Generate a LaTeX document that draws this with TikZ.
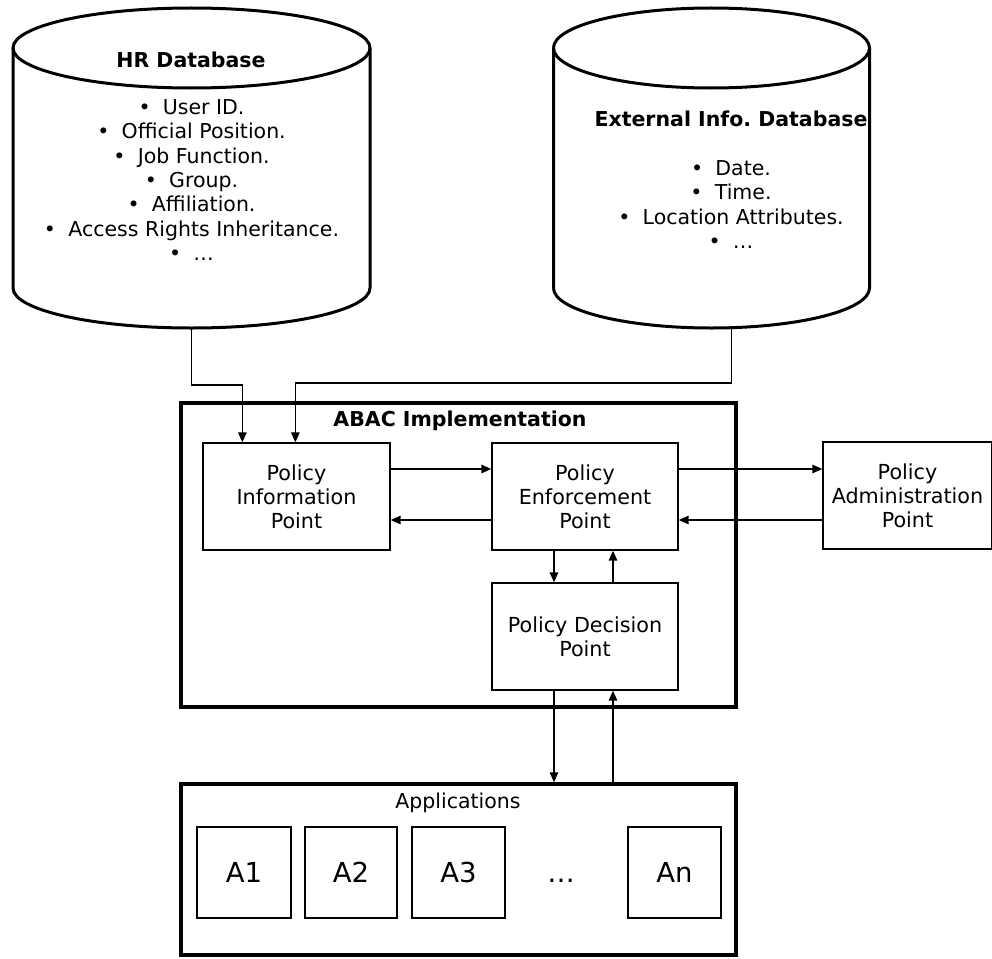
\documentclass[tikz,border=0pt]{standalone}
\usepackage{fontspec}
\setmainfont{DejaVu Sans}
\usetikzlibrary{arrows.meta}
\frenchspacing
\begin{document}
\begin{tikzpicture}[x=1pt,y=1pt,
  cyl/.style={line width=3pt},
  frame/.style={draw,line width=3.5pt,inner sep=0pt},
  box/.style={draw,line width=1.3pt,inner sep=0pt,align=center,
    font=\fontsize{20.7}{24.2}\selectfont},
  txt/.style={align=center,inner sep=0pt,font=\fontsize{20.5}{24.4}\selectfont},
  ttl/.style={inner sep=0pt,font=\fontsize{20.5}{24}\selectfont\bfseries},
  appbox/.style={draw,line width=1.3pt,inner sep=0pt,font=\fontsize{27.5}{30}\selectfont},
  lnk/.style={line width=1.3pt},
  arr/.style={line width=1.4pt,-{Triangle[length=10pt,width=8.5pt]}}
]
\useasboundingbox (0,0) rectangle (992,-958);

% HR database cylinder
\draw[cyl] (13,-48) -- (13,-288)
  arc[start angle=180,end angle=360,x radius=178.5,y radius=40] -- (370,-48);
\draw[cyl] (191.5,-48) ellipse[x radius=178.5,y radius=40];
\coordinate (hrb) at (191.5,-328);
\node[ttl] (hrtitle) at (191,-60) {HR Database};
\node[txt] (hritems) at (191.5,-180) {%
  •\hspace{0.6em}User ID.\\
  •\hspace{0.6em}Official Position.\\
  •\hspace{0.6em}Job Function.\\
  •\hspace{0.6em}Group.\\
  •\hspace{0.6em}Affiliation.\\
  •\hspace{0.6em}Access Rights Inheritance.\\
  •\hspace{0.6em}…};

% External information database cylinder
\draw[cyl] (553.5,-48) -- (553.5,-288)
  arc[start angle=180,end angle=360,x radius=158,y radius=40] -- (869.5,-48);
\draw[cyl] (711.5,-48) ellipse[x radius=158,y radius=40];
\coordinate (exb) at (731.5,-327.5);
\node[ttl] (extitle) at (731,-119) {External Info. Database};
\node[txt] (exitems) at (731,-204.5) {%
  •\hspace{0.6em}Date.\\
  •\hspace{0.6em}Time.\\
  •\hspace{0.6em}Location Attributes.\\
  •\hspace{0.6em}…};

% ABAC implementation frame
\node[frame,minimum width=555,minimum height=304] (abac) at (458.5,-555) {};
\node[ttl] (abactitle) at (460,-421) {ABAC Implementation};

\node[box,minimum width=187,minimum height=107] (pip) at (296.5,-496.5)
  {Policy\\Information\\Point};
\node[box,minimum width=186,minimum height=107] (pep) at (585,-496.5)
  {Policy\\Enforcement\\Point};
\node[box,minimum width=169,minimum height=107] (pap) at (907.5,-495.5)
  {Policy\\Administration\\Point};
\node[box,minimum width=186,minimum height=107] (pdp) at (585,-636.5)
  {Policy Decision\\Point};

% Applications frame
\node[frame,minimum width=555,minimum height=171] (apps) at (458.5,-869.5) {};
\node[txt] (appstitle) at (458,-803) {Applications};
\node[appbox,minimum width=94,minimum height=91] (a1) at (244,-872.5) {A1};
\node[appbox,minimum width=92,minimum height=91] (a2) at (351,-872.5) {A2};
\node[appbox,minimum width=93,minimum height=91] (a3) at (458.5,-872.5) {A3};
\node[appbox,minimum width=93,minimum height=91] (an) at (674.5,-872.5) {An};
\node[inner sep=0pt,anchor=base,font=\fontsize{27.5}{30}\selectfont] (dots)
  at ([xshift=102.5pt]a3.base) {…};

% Attribute sources feeding the PIP
\draw[arr] (hrb) -- ++(0,-57) -| ([xshift=40pt]pip.north west);
\draw[arr] (exb) -- ++(0,-55.5) -| ([xshift=93pt]pip.north west);

% PIP <-> PEP
\draw[arr] ([yshift=27.5pt]pip.east) -- ([yshift=27.5pt]pep.west);
\draw[arr] ([yshift=-23.5pt]pep.west) -- ([yshift=-23.5pt]pip.east);

% PEP <-> PAP
\draw[arr] ([yshift=27.5pt]pep.east) -- ([yshift=27.5pt]pep.east -| pap.west);
\draw[arr] ([yshift=-23.5pt]pep.east -| pap.west) -- ([yshift=-23.5pt]pep.east);

% PEP <-> PDP
\draw[arr] ([xshift=-31pt]pep.south) -- ([xshift=-31pt]pdp.north);
\draw[arr] ([xshift=28pt]pdp.north) -- ([xshift=28pt]pep.south);

% PDP <-> Applications
\draw[arr] ([xshift=-31pt]pdp.south) -- ([xshift=-31pt]pdp.south |- apps.north);
\draw[arr] ([xshift=28pt]pdp.south |- apps.north) -- ([xshift=28pt]pdp.south);
\end{tikzpicture}
\end{document}
